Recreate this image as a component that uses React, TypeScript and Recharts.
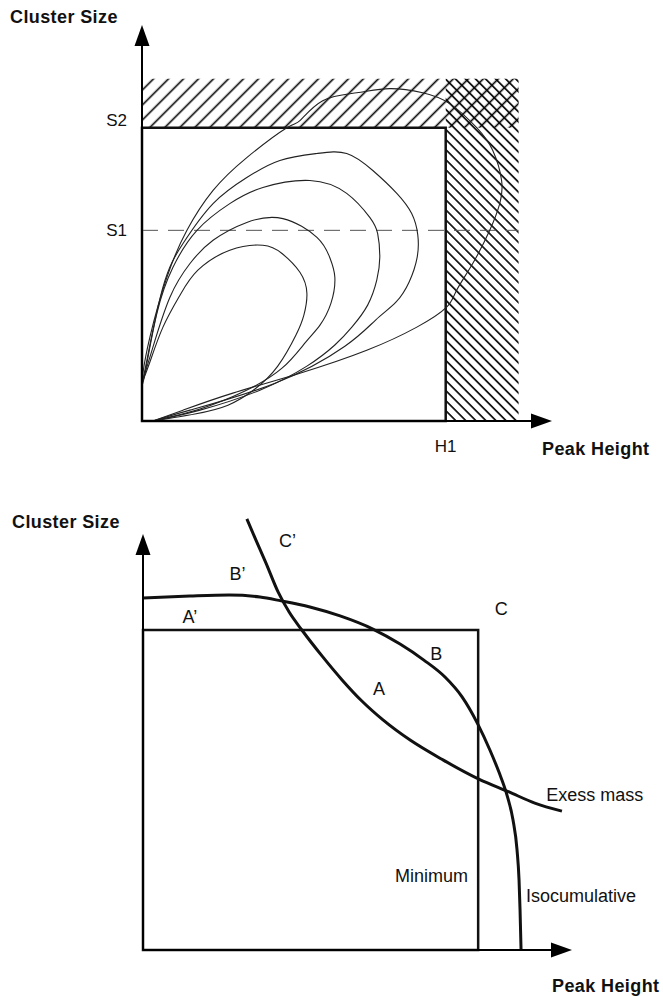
import {
  ComposedChart,
  Line,
  XAxis,
  YAxis,
  ReferenceArea,
  ReferenceLine,
  ReferenceDot,
} from "recharts";

const FONT = "'Liberation Sans', Arial, Helvetica, sans-serif";

// ---- top panel: density contours (peak height vs cluster size), H1 = 100, S2 = 100 ----
const contour1 = [
  { x: 0, y: 12.9 }, { x: 2.6, y: 20.1 }, { x: 6.9, y: 32.0 }, { x: 12.5, y: 42.9 },
  { x: 18.4, y: 51.4 }, { x: 28.9, y: 58.2 }, { x: 39.8, y: 59.9 }, { x: 46.1, y: 57.1 },
  { x: 52.0, y: 50.7 }, { x: 54.3, y: 43.5 }, { x: 53.3, y: 36.1 }, { x: 50.7, y: 29.3 },
  { x: 44.7, y: 18.7 }, { x: 37.2, y: 10.9 }, { x: 28.3, y: 5.4 }, { x: 17.4, y: 2.4 },
  { x: 3.6, y: 0 },
];
const contour2 = [
  { x: 0, y: 12.9 }, { x: 3.6, y: 25.2 }, { x: 9.2, y: 42.2 }, { x: 15.8, y: 53.7 },
  { x: 23.4, y: 61.6 }, { x: 34.5, y: 67.7 }, { x: 46.4, y: 69.0 }, { x: 57.6, y: 62.6 },
  { x: 61.8, y: 55.8 }, { x: 63.5, y: 49.0 }, { x: 62.2, y: 40.1 }, { x: 58.6, y: 32.7 },
  { x: 53.9, y: 26.9 }, { x: 46.1, y: 18.0 }, { x: 33.9, y: 10.2 }, { x: 19.1, y: 4.1 },
  { x: 3.6, y: 0 },
];
const contour3 = [
  { x: 0, y: 12.9 }, { x: 1.0, y: 16.3 }, { x: 4.9, y: 36.7 }, { x: 10.2, y: 52.4 },
  { x: 18.1, y: 65.0 }, { x: 28.9, y: 74.1 }, { x: 39.8, y: 79.6 }, { x: 55.3, y: 82.0 },
  { x: 67.4, y: 77.6 }, { x: 75.0, y: 69.4 }, { x: 77.6, y: 63.9 }, { x: 78.3, y: 55.8 },
  { x: 77.3, y: 48.0 }, { x: 74.3, y: 39.5 }, { x: 69.1, y: 32.0 }, { x: 63.5, y: 25.9 },
  { x: 54.3, y: 18.7 }, { x: 38.8, y: 10.5 }, { x: 19.1, y: 3.7 }, { x: 3.6, y: 0 },
];
const contour4 = [
  { x: 0, y: 12.9 }, { x: 1.6, y: 20.7 }, { x: 6.9, y: 45.6 }, { x: 13.5, y: 60.5 },
  { x: 23.4, y: 74.1 }, { x: 34.5, y: 83.0 }, { x: 45.4, y: 88.8 }, { x: 57.6, y: 91.2 },
  { x: 67.4, y: 91.2 }, { x: 76.0, y: 85.4 }, { x: 83.9, y: 77.6 }, { x: 88.8, y: 70.7 },
  { x: 90.8, y: 63.5 }, { x: 90.6, y: 55.8 }, { x: 88.0, y: 47.5 }, { x: 83.6, y: 40.5 },
  { x: 77.0, y: 34.5 }, { x: 66.8, y: 25.5 }, { x: 43.8, y: 12.9 }, { x: 15.8, y: 3.7 },
  { x: 3.6, y: 0 },
];
const contour5 = [
  { x: 0, y: 12.9 }, { x: 0.3, y: 16.3 }, { x: 2.6, y: 28.6 }, { x: 8.2, y: 49.0 },
  { x: 14.8, y: 65.0 }, { x: 23.4, y: 78.6 }, { x: 34.5, y: 89.8 }, { x: 47.7, y: 100 },
  { x: 52.0, y: 102.4 }, { x: 59.5, y: 109.2 }, { x: 70.7, y: 111.9 }, { x: 81.6, y: 113.3 },
  { x: 92.4, y: 111.9 }, { x: 101.3, y: 108.2 }, { x: 110.2, y: 100 }, { x: 115.5, y: 92.2 },
  { x: 118.4, y: 82.0 }, { x: 117.8, y: 74.1 }, { x: 114.5, y: 65.0 }, { x: 108.9, y: 53.7 },
  { x: 103.6, y: 44.6 }, { x: 100.3, y: 38.8 }, { x: 90.5, y: 32.0 }, { x: 74.0, y: 24.1 },
  { x: 52.0, y: 16.3 }, { x: 29.9, y: 9.5 }, { x: 13.5, y: 3.7 }, { x: 3.6, y: 0 },
];
const contours = [contour1, contour2, contour3, contour4, contour5];

const topXTicks = [100];
const topXTickNames = ["H1"];
const topYTicks = [65, 100];
const topYTickNames = ["S1", "S2"];
const H1 = 100;
const S1 = 65;
const S2 = 100;
const hatchRight = 124;
const hatchTop = 116.7;
const topAxisMax = 135;

// ---- bottom panel: Minimum = 100 on x, rectangle top = 100 on y ----
const isocumulative = [
  { x: 0, y: 110 }, { x: 14.0, y: 110.6 }, { x: 25.7, y: 110.9 }, { x: 34.9, y: 110.3 },
  { x: 41.2, y: 109.1 }, { x: 49.8, y: 107.2 }, { x: 58.8, y: 104.4 }, { x: 68.6, y: 100.3 },
  { x: 76.7, y: 95.6 }, { x: 83.8, y: 90.6 }, { x: 90.1, y: 85.3 }, { x: 95.2, y: 79.1 },
  { x: 99.9, y: 70.6 }, { x: 103.5, y: 62.5 }, { x: 106.2, y: 55.6 }, { x: 108.6, y: 48.4 },
  { x: 110.4, y: 40.6 }, { x: 111.6, y: 31.3 }, { x: 112.2, y: 21.9 }, { x: 112.5, y: 12.5 },
  { x: 112.8, y: 0 },
];
const excessMass = [
  { x: 31.0, y: 134.7 }, { x: 33.7, y: 128.1 }, { x: 36.7, y: 120.9 }, { x: 40.3, y: 111.9 },
  { x: 43.6, y: 105.6 }, { x: 47.4, y: 100 }, { x: 53.4, y: 91.9 }, { x: 59.4, y: 84.4 },
  { x: 65.3, y: 77.8 }, { x: 71.6, y: 71.9 }, { x: 79.7, y: 65.6 }, { x: 89.5, y: 59.4 },
  { x: 100.2, y: 53.4 }, { x: 109.2, y: 49.4 }, { x: 116.9, y: 45.9 }, { x: 125.0, y: 43.4 },
];
const minimumX = 100;
const minimumY = 100;
const bottomXMax = 128;
const bottomYMax = 136;
const bottomArrowY = 130;

const regionLabels = [
  { text: "C\u2019", x: 43.1, y: 127.8 },
  { text: "B\u2019", x: 28.2, y: 117.5 },
  { text: "A\u2019", x: 14.0, y: 104.2 },
  { text: "C", x: 106.9, y: 106.7 },
  { text: "B", x: 87.5, y: 92.7 },
  { text: "A", x: 70.4, y: 81.7 },
];
const curveLabels = [
  { text: "Exess mass", x: 120.3, y: 48.6 },
  { text: "Minimum", x: 75.2, y: 23.4 },
  { text: "Isocumulative", x: 114.3, y: 17.0 },
];

const AxisArrow = (props: any) => {
  const { x1, y1, x2, y2 } = props;
  const dx = x2 - x1;
  const dy = y2 - y1;
  const len = Math.hypot(dx, dy) || 1;
  const ux = dx / len;
  const uy = dy / len;
  const head = 21;
  const half = 7.5;
  const bx = x2 - ux * head;
  const by = y2 - uy * head;
  const px = -uy * half;
  const py = ux * half;
  return (
    <g>
      <line x1={x1} y1={y1} x2={bx + ux} y2={by + uy} stroke="#000" strokeWidth={2} />
      <polygon
        points={`${x2},${y2} ${bx + px},${by + py} ${bx - px},${by - py}`}
        fill="#000"
      />
    </g>
  );
};

const TopYTick = (p: any) => {
  const v = p.payload.value;
  const i = topYTicks.indexOf(v);
  return (
    <text
      x={p.x}
      y={p.y + (v === S2 ? -2 : 6)}
      textAnchor="end"
      fontSize={17}
      fontFamily={FONT}
      fill="#111"
    >
      {topYTickNames[i]}
    </text>
  );
};

const AxisName = ({ x, y, children }: any) => (
  <text
    x={x}
    y={y}
    fontSize={18}
    fontWeight="bold"
    letterSpacing={0.4}
    fontFamily={FONT}
    fill="#111"
  >
    {children}
  </text>
);

const TopPanel = () => (
  <ComposedChart
    width={663}
    height={470}
    margin={{ top: 25, right: 111, bottom: 19, left: 102 }}
  >
    <defs>
      <pattern
        id="hatchF"
        width="10.6"
        height="10.6"
        patternUnits="userSpaceOnUse"
        patternTransform="rotate(45)"
      >
        <line x1="5.3" y1="0" x2="5.3" y2="10.6" stroke="#000" strokeWidth="1.6" />
      </pattern>
      <pattern
        id="hatchB"
        width="7.1"
        height="7.1"
        patternUnits="userSpaceOnUse"
        patternTransform="rotate(-45)"
      >
        <line x1="3.55" y1="0" x2="3.55" y2="7.1" stroke="#000" strokeWidth="1.6" />
      </pattern>
    </defs>
    <XAxis
      type="number"
      dataKey="x"
      domain={[0, topAxisMax]}
      ticks={topXTicks}
      tickFormatter={(v: number) => topXTickNames[topXTicks.indexOf(v)]}
      axisLine={false}
      tickLine={false}
      tickMargin={13}
      height={30}
      allowDataOverflow
      tick={{ fontSize: 17, fill: "#111", fontFamily: FONT }}
    />
    <YAxis
      type="number"
      dataKey="y"
      domain={[0, topAxisMax]}
      ticks={topYTicks}
      width={40}
      axisLine={false}
      tickLine={false}
      tickMargin={9}
      allowDataOverflow
      tick={<TopYTick />}
    />
    <ReferenceArea
      x1={0}
      x2={hatchRight}
      y1={S2}
      y2={hatchTop}
      fill="url(#hatchF)"
      fillOpacity={1}
      stroke="none"
    />
    <ReferenceArea
      x1={H1}
      x2={hatchRight}
      y1={0}
      y2={hatchTop}
      fill="url(#hatchB)"
      fillOpacity={1}
      stroke="none"
    />
    <ReferenceArea
      x1={0}
      x2={H1}
      y1={0}
      y2={S2}
      fill="#fff"
      fillOpacity={1}
      stroke="#111"
      strokeWidth={2.5}
    />
    <ReferenceLine
      segment={[{ x: 0, y: S1 }, { x: hatchRight, y: S1 }]}
      stroke="#555"
      strokeWidth={1}
      strokeDasharray="16 10"
    />
    {contours.map((c, i) => (
      <Line
        key={i}
        data={c}
        dataKey="y"
        type="natural"
        stroke="#222"
        strokeWidth={1.1}
        dot={false}
        activeDot={false}
        isAnimationActive={false}
      />
    ))}
    <ReferenceLine segment={[{ x: 0, y: 0 }, { x: topAxisMax, y: 0 }]} shape={AxisArrow} />
    <ReferenceLine segment={[{ x: 0, y: 0 }, { x: 0, y: topAxisMax }]} shape={AxisArrow} />
    <AxisName x={10} y={23}>Cluster Size</AxisName>
    <AxisName x={542} y={455}>Peak Height</AxisName>
  </ComposedChart>
);

const BottomPanel = () => (
  <ComposedChart
    width={663}
    height={516}
    margin={{ top: 34.8, right: 91, bottom: 46, left: 143 }}
  >
    <XAxis type="number" dataKey="x" domain={[0, bottomXMax]} hide allowDataOverflow />
    <YAxis type="number" dataKey="y" domain={[0, bottomYMax]} hide allowDataOverflow />
    <ReferenceArea
      x1={0}
      x2={minimumX}
      y1={0}
      y2={minimumY}
      fill="none"
      fillOpacity={0}
      stroke="#111"
      strokeWidth={2.5}
    />
    <Line
      data={isocumulative}
      dataKey="y"
      type="monotone"
      stroke="#111"
      strokeWidth={3}
      dot={false}
      activeDot={false}
      isAnimationActive={false}
    />
    <Line
      data={excessMass}
      dataKey="y"
      type="monotone"
      stroke="#111"
      strokeWidth={3}
      dot={false}
      activeDot={false}
      isAnimationActive={false}
    />
    <ReferenceLine segment={[{ x: 0, y: 0 }, { x: bottomXMax, y: 0 }]} shape={AxisArrow} />
    <ReferenceLine segment={[{ x: 0, y: 0 }, { x: 0, y: bottomArrowY }]} shape={AxisArrow} />
    {regionLabels.map((l) => (
      <ReferenceDot
        key={l.text}
        x={l.x}
        y={l.y}
        r={0}
        fill="none"
        stroke="none"
        ifOverflow="visible"
        label={{
          value: l.text,
          position: "center",
          fontSize: 18,
          fill: "#111",
          fontFamily: FONT,
        }}
      />
    ))}
    {curveLabels.map((l) => (
      <ReferenceDot
        key={l.text}
        x={l.x}
        y={l.y}
        r={0}
        fill="none"
        stroke="none"
        ifOverflow="visible"
        label={{
          value: l.text,
          position: "right",
          offset: 0,
          fontSize: 18,
          fill: "#111",
          fontFamily: FONT,
        }}
      />
    ))}
    <AxisName x={12} y={48}>Cluster Size</AxisName>
    <AxisName x={552} y={512}>Peak Height</AxisName>
  </ComposedChart>
);

export default function App() {
  return (
    <div
      style={{
        position: "absolute",
        left: 0,
        top: 0,
        width: 663,
        height: 996,
        background: "#fff",
      }}
    >
      <div style={{ position: "absolute", left: 0, top: 0 }}>
        <TopPanel />
      </div>
      <div style={{ position: "absolute", left: 0, top: 480 }}>
        <BottomPanel />
      </div>
    </div>
  );
}
